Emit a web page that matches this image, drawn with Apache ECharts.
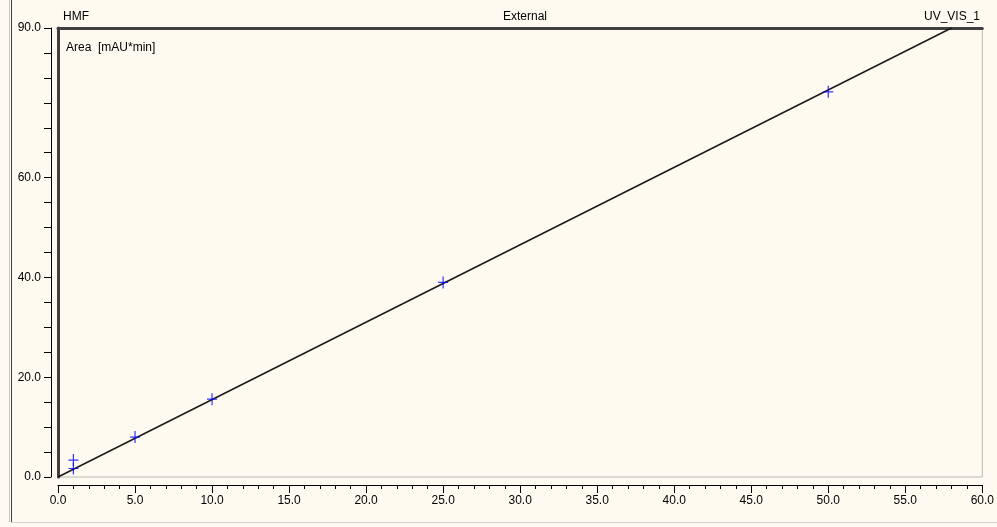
<!DOCTYPE html>
<html>
<head>
<meta charset="utf-8">
<script src="https://cdn.jsdelivr.net/npm/echarts@6/dist/echarts.min.js"></script>
<style>
html,body{margin:0;padding:0;background:#FEFAF0;}
#chart{width:997px;height:527px;}
</style>
</head>
<body>
<div id="chart"></div>
<script>
// Calibration points (amount, area)
var pointsX = [1, 1, 5, 10, 25, 50];
var pointsY = [1.7, 3.4, 8.0, 15.6, 39.0, 77.2];
// Calibration line endpoints
var lineX = [0, 58];
var lineY = [0, 90];
// Tick labels
var yLabelValues = [0, 20, 40, 60, 90];
var titleLeft = 'HMF';
var titleCenter = 'External';
var titleRight = 'UV_VIS_1';
var yAxisName = 'Area  [mAU*min]';

var FONT = '"Liberation Sans", Arial, sans-serif';
var chart = echarts.init(document.getElementById('chart'));

var scatterData = pointsX.map(function (x, i) { return [x, pointsY[i]]; });
var lineData = lineX.map(function (x, i) { return [x, lineY[i]]; });

var plus = 'path://M0,5.4h10v1.2h-10z M4.4,0h1.2v12h-1.2z';

chart.setOption({
  backgroundColor: '#FEFAF0',
  animation: false,
  title: [
    { text: titleLeft, left: 58, top: 6, textStyle: { fontFamily: FONT, fontSize: 12, fontWeight: 'normal', color: '#000' } },
    { text: titleCenter, left: 520, top: 6, textAlign: 'center', textStyle: { fontFamily: FONT, fontSize: 12, fontWeight: 'normal', color: '#000' } },
    { text: titleRight, right: 12, top: 6, textStyle: { fontFamily: FONT, fontSize: 12, fontWeight: 'normal', color: '#000' } },
    { text: yAxisName, left: 61, top: 37, textStyle: { fontFamily: FONT, fontSize: 12, fontWeight: 'normal', color: '#000' } }
  ],
  graphic: [
    { type: 'line', shape: { x1: 11.5, y1: 0, x2: 11.5, y2: 522 }, style: { stroke: '#404040', lineWidth: 1 } },
    { type: 'line', shape: { x1: 9.5, y1: 0, x2: 9.5, y2: 522 }, style: { stroke: '#c8c8c8', lineWidth: 1 } },
    { type: 'line', shape: { x1: 11, y1: 522.5, x2: 997, y2: 522.5 }, style: { stroke: '#d0d0d0', lineWidth: 1 } }
  ],
  grid: {
    left: 58, right: 9, top: 28, bottom: 50,
    show: true, backgroundColor: '#FEFAF0', borderColor: '#b8b8b8', borderWidth: 1
  },
  xAxis: [
    {
      type: 'value', min: 0, max: 60, interval: 5, position: 'bottom', offset: 8,
      axisLine: { show: true, onZero: false, lineStyle: { color: '#000', width: 1 } },
      axisTick: { show: true, inside: false, length: 8, lineStyle: { color: '#000' } },
      minorTick: { show: true, splitNumber: 5, length: 4, lineStyle: { color: '#000' } },
      splitLine: { show: false },
      axisLabel: { margin: 10, color: '#000', fontFamily: FONT, fontSize: 12, formatter: function (v) { return v.toFixed(1); } }
    },
    {
      type: 'value', min: 0, max: 60, position: 'top', offset: 0,
      axisLine: { show: true, onZero: false, lineStyle: { color: '#404040', width: 3 } },
      axisTick: { show: false }, axisLabel: { show: false }, splitLine: { show: false }
    }
  ],
  yAxis: [
    {
      type: 'value', min: 0, max: 90, interval: 5, position: 'left', offset: 7,
      axisLine: { show: true, onZero: false, lineStyle: { color: '#000', width: 1 } },
      axisTick: { show: true, inside: false, length: 7, lineStyle: { color: '#000' } },
      splitLine: { show: false },
      axisLabel: {
        margin: 10, color: '#000', fontFamily: FONT, fontSize: 12,
        formatter: function (v) { return yLabelValues.indexOf(v) >= 0 ? v.toFixed(1) : ''; }
      }
    },
    {
      type: 'value', min: 0, max: 90, position: 'left', offset: 0,
      axisLine: { show: true, onZero: false, lineStyle: { color: '#404040', width: 3 } },
      axisTick: { show: false }, axisLabel: { show: false }, splitLine: { show: false }
    }
  ],
  series: [
    {
      type: 'line', xAxisIndex: 0, yAxisIndex: 0, data: lineData,
      symbol: 'none', lineStyle: { color: '#1a1a1a', width: 1.5 }, z: 2
    },
    {
      type: 'scatter', xAxisIndex: 0, yAxisIndex: 0, data: scatterData,
      symbol: plus, symbolSize: [10, 12], itemStyle: { color: '#0000FF' }, z: 3
    }
  ]
});
</script>
</body>
</html>
